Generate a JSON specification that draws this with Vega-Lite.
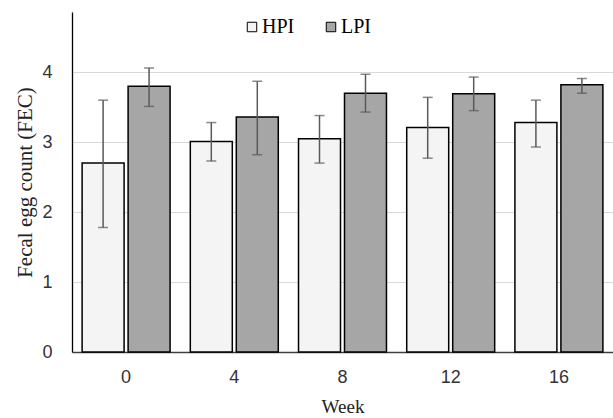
{
  "$schema": "https://vega.github.io/schema/vega-lite/v6.json",
  "width": 541,
  "height": 340,
  "autosize": {"type": "none"},
  "padding": {"left": 72, "top": 12, "right": 0, "bottom": 66},
  "background": "white",
  "config": {"view": {"stroke": null}},
  "data": {
    "values": [
      {"week": "0", "group": "HPI", "value": 2.70, "lo": 1.78, "hi": 3.60},
      {"week": "0", "group": "LPI", "value": 3.80, "lo": 3.51, "hi": 4.06},
      {"week": "4", "group": "HPI", "value": 3.01, "lo": 2.73, "hi": 3.28},
      {"week": "4", "group": "LPI", "value": 3.36, "lo": 2.82, "hi": 3.87},
      {"week": "8", "group": "HPI", "value": 3.05, "lo": 2.70, "hi": 3.38},
      {"week": "8", "group": "LPI", "value": 3.70, "lo": 3.43, "hi": 3.97},
      {"week": "12", "group": "HPI", "value": 3.21, "lo": 2.77, "hi": 3.64},
      {"week": "12", "group": "LPI", "value": 3.69, "lo": 3.45, "hi": 3.93},
      {"week": "16", "group": "HPI", "value": 3.28, "lo": 2.93, "hi": 3.60},
      {"week": "16", "group": "LPI", "value": 3.82, "lo": 3.70, "hi": 3.91}
    ]
  },
  "encoding": {
    "x": {
      "field": "week",
      "type": "ordinal",
      "sort": ["0", "4", "8", "12", "16"],
      "scale": {"paddingInner": 0, "paddingOuter": 0},
      "axis": {
        "title": "Week",
        "titleFont": "Liberation Serif",
        "titleFontSize": 19,
        "titleFontWeight": "normal",
        "titleColor": "#222222",
        "titlePadding": 11,
        "labelAngle": 0,
        "labelFont": "Liberation Sans",
        "labelFontSize": 18,
        "labelColor": "#333333",
        "labelPadding": 16,
        "ticks": false,
        "domainColor": "#404040",
        "domainWidth": 1.5,
        "grid": false
      }
    },
    "xOffset": {
      "field": "group",
      "type": "nominal",
      "scale": {"paddingInner": 0.087, "paddingOuter": 0.22}
    }
  },
  "layer": [
    {
      "mark": {"type": "bar", "stroke": "black", "strokeWidth": 1.5},
      "encoding": {
        "y": {
          "field": "value",
          "type": "quantitative",
          "title": "Fecal egg count (FEC)",
          "scale": {"domain": [0, 4.86], "nice": false, "zero": true},
          "axis": {
            "values": [0, 1, 2, 3, 4],
            "format": "d",
            "grid": true,
            "gridColor": "#d9d9d9",
            "gridWidth": 1,
            "ticks": false,
            "domainColor": "black",
            "domainWidth": 1.3,
            "labelFont": "Liberation Sans",
            "labelFontSize": 18,
            "labelColor": "#333333",
            "labelPadding": 20,
            "titleFont": "Liberation Serif",
            "titleFontSize": 21,
            "titleFontWeight": "normal",
            "titleColor": "#222222",
            "titlePadding": 6
          }
        },
        "fill": {
          "field": "group",
          "type": "nominal",
          "scale": {"domain": ["HPI", "LPI"], "range": ["#f4f4f4", "#a6a6a6"]},
          "legend": {
            "orient": "none",
            "legendX": 170,
            "legendY": 5,
            "direction": "horizontal",
            "title": null,
            "symbolType": "square",
            "symbolSize": 90,
            "symbolStrokeColor": "black",
            "symbolStrokeWidth": 1,
            "labelFont": "Liberation Serif",
            "labelFontSize": 20,
            "labelColor": "black",
            "labelOffset": 0,
            "columnPadding": 26
          }
        }
      }
    },
    {
      "mark": {"type": "rule", "color": "#595959", "strokeWidth": 1.5},
      "encoding": {
        "y": {"field": "lo", "type": "quantitative", "title": "Fecal egg count (FEC)"},
        "y2": {"field": "hi"}
      }
    },
    {
      "mark": {"type": "tick", "color": "#595959", "size": 10, "thickness": 1.5},
      "encoding": {
        "y": {"field": "hi", "type": "quantitative", "title": "Fecal egg count (FEC)"}
      }
    },
    {
      "mark": {"type": "tick", "color": "#595959", "size": 10, "thickness": 1.5},
      "encoding": {
        "y": {"field": "lo", "type": "quantitative", "title": "Fecal egg count (FEC)"}
      }
    }
  ]
}
